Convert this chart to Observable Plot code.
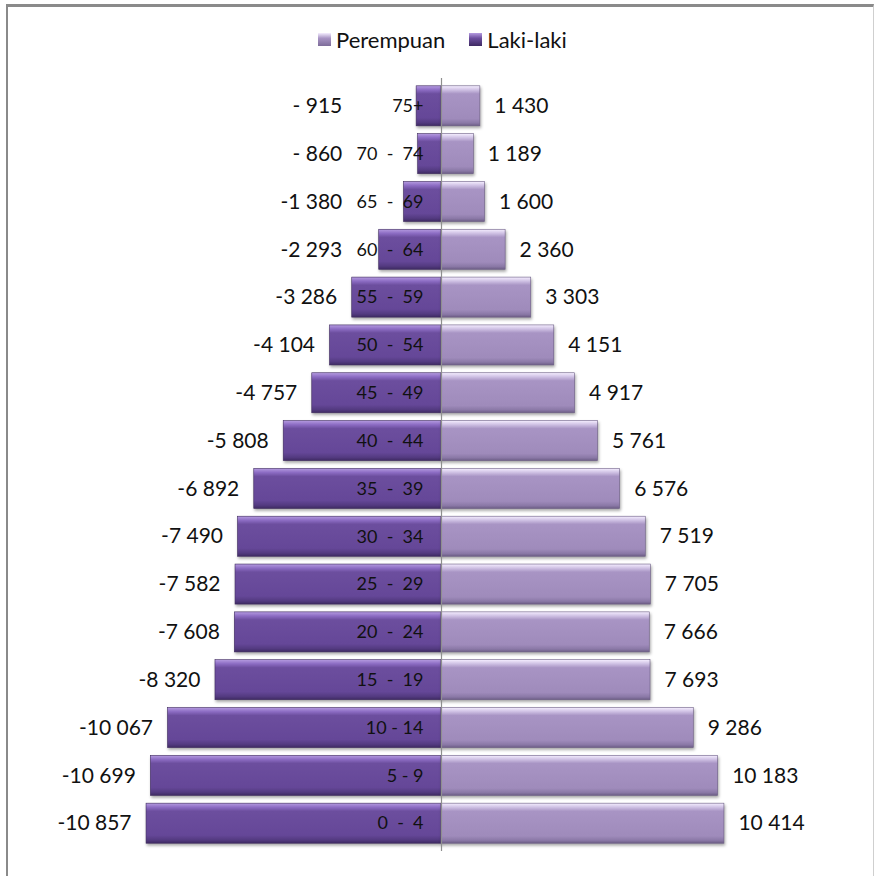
<!DOCTYPE html>
<html>
<head>
<meta charset="utf-8">
<script src="https://cdn.jsdelivr.net/npm/d3@7"></script>
<script src="https://cdn.jsdelivr.net/npm/@observablehq/plot@0.6"></script>
<style>
  html, body { margin: 0; padding: 0; background: #fff; overflow: hidden; }
  #page { position: relative; width: 874px; height: 876px; overflow: hidden; font-family: Lato, sans-serif; }
  #frame { position: absolute; left: 6px; top: 4px; width: 868px; height: 900px;
           border-left: 2px solid #8a8a8a; border-top: 3px solid #8a8a8a; border-right: 1px solid #cfcfcf; box-sizing: border-box; }
  #legend { position: absolute; left: 318px; top: 26px; display: flex; align-items: center; font-size: 22px; color: #111; }
  #legend .item { display: flex; align-items: center; margin-right: 24px; }
  #legend .sw { width: 13px; height: 13px; margin-right: 5px; box-sizing: border-box; }
  #chart { position: absolute; left: 0; top: 62px; }
  #chart text { white-space: pre; }
</style>
</head>
<body>
<div id="page">
  <div id="frame"></div>
  <div id="legend"></div>
  <div id="chart"></div>
</div>
<script>
// Data (top row first)
const ages = ["75+", "70  -  74", "65  -  69", "60  -  64", "55  -  59", "50  -  54", "45  -  49", "40  -  44",
              "35  -  39", "30  -  34", "25  -  29", "20  -  24", "15  -  19", "10 - 14", "5 - 9", "0  -  4"];
const male = [915, 860, 1380, 2293, 3286, 4104, 4757, 5808, 6892, 7490, 7582, 7608, 8320, 10067, 10699, 10857];
const female = [1430, 1189, 1600, 2360, 3303, 4151, 4917, 5761, 6576, 7519, 7705, 7666, 7693, 9286, 10183, 10414];
const seriesNames = ["Perempuan", "Laki-laki"];

const rows = ages.map((a, i) => ({age: a, male: male[i], female: female[i]}));
const fmt = v => d3.format(",")(v).replace(/,/g, " ");
const maleLabel = v => (v < 1000 ? "- " : "-") + fmt(v);
// labels of short male bars are kept clear of the age labels
const labelClamp = 3100;

const maleFill = "url(#gradMale)";
const femaleFill = "url(#gradFemale)";

const svg = Plot.plot({
  width: 874,
  height: 814,
  marginLeft: 115,
  marginRight: 107,
  marginTop: 16,
  marginBottom: 25,
  x: {domain: [-12000, 12000], axis: null},
  y: {domain: ages, axis: null, padding: 0.163, round: false},
  style: {fontFamily: "Lato, sans-serif", background: "transparent", color: "#111"},
  marks: [
    Plot.barX(rows, {y: "age", x1: 0, x2: d => -d.male, fill: maleFill, stroke: "#3e2a5e", strokeWidth: 0.6}),
    Plot.barX(rows, {y: "age", x1: 0, x2: "female", fill: femaleFill, stroke: "#6d5e86", strokeWidth: 0.6}),
    Plot.ruleX([0], {stroke: "#8f8f8f", strokeWidth: 1.2}),
    Plot.text(rows, {y: "age", x: 0, text: "age", textAnchor: "end", dx: -18, fontSize: 18, fill: "#111"}),
    Plot.text(rows, {y: "age", x: d => -Math.max(d.male, labelClamp), text: d => maleLabel(d.male),
                     textAnchor: "end", dx: -15, fontSize: 21, fill: "#111"}),
    Plot.text(rows, {y: "age", x: "female", text: d => fmt(d.female),
                     textAnchor: "start", dx: 14, fontSize: 21, fill: "#111"})
  ]
});

// gradient definitions for a bevelled look
const ns = "http://www.w3.org/2000/svg";
const defs = document.createElementNS(ns, "defs");
function grad(id, stops) {
  const g = document.createElementNS(ns, "linearGradient");
  g.setAttribute("id", id);
  g.setAttribute("x1", "0"); g.setAttribute("y1", "0");
  g.setAttribute("x2", "0"); g.setAttribute("y2", "1");
  for (const [o, c] of stops) {
    const s = document.createElementNS(ns, "stop");
    s.setAttribute("offset", o);
    s.setAttribute("stop-color", c);
    g.appendChild(s);
  }
  defs.appendChild(g);
}
grad("gradMale", [["0", "#b59be0"], ["0.1", "#8d6dc4"], ["0.2", "#6c4e9e"], ["0.8", "#654798"], ["0.92", "#533a80"], ["1", "#3e2a62"]]);
grad("gradFemale", [["0", "#f5eeff"], ["0.1", "#cfc1e4"], ["0.2", "#a894c4"], ["0.82", "#9f8bbb"], ["0.93", "#8a78a6"], ["1", "#6c5d85"]]);
svg.insertBefore(defs, svg.firstChild);
svg.querySelectorAll('g[aria-label="bar"]').forEach(g => {
  g.style.filter = "drop-shadow(1px 2px 1.5px rgba(0,0,0,0.35))";
});
document.getElementById("chart").appendChild(svg);

// legend
const legend = document.getElementById("legend");
const swatches = {"Perempuan": "linear-gradient(#f5eeff, #a894c4 40%, #7d6c99)", "Laki-laki": "linear-gradient(#b59be0, #6c4e9e 40%, #3e2a62)"};
seriesNames.forEach(name => {
  const item = document.createElement("div");
  item.className = "item";
  const sw = document.createElement("div");
  sw.className = "sw";
  sw.style.background = swatches[name];
  const t = document.createElement("span");
  t.textContent = name;
  item.appendChild(sw);
  item.appendChild(t);
  legend.appendChild(item);
});
</script>
</body>
</html>
